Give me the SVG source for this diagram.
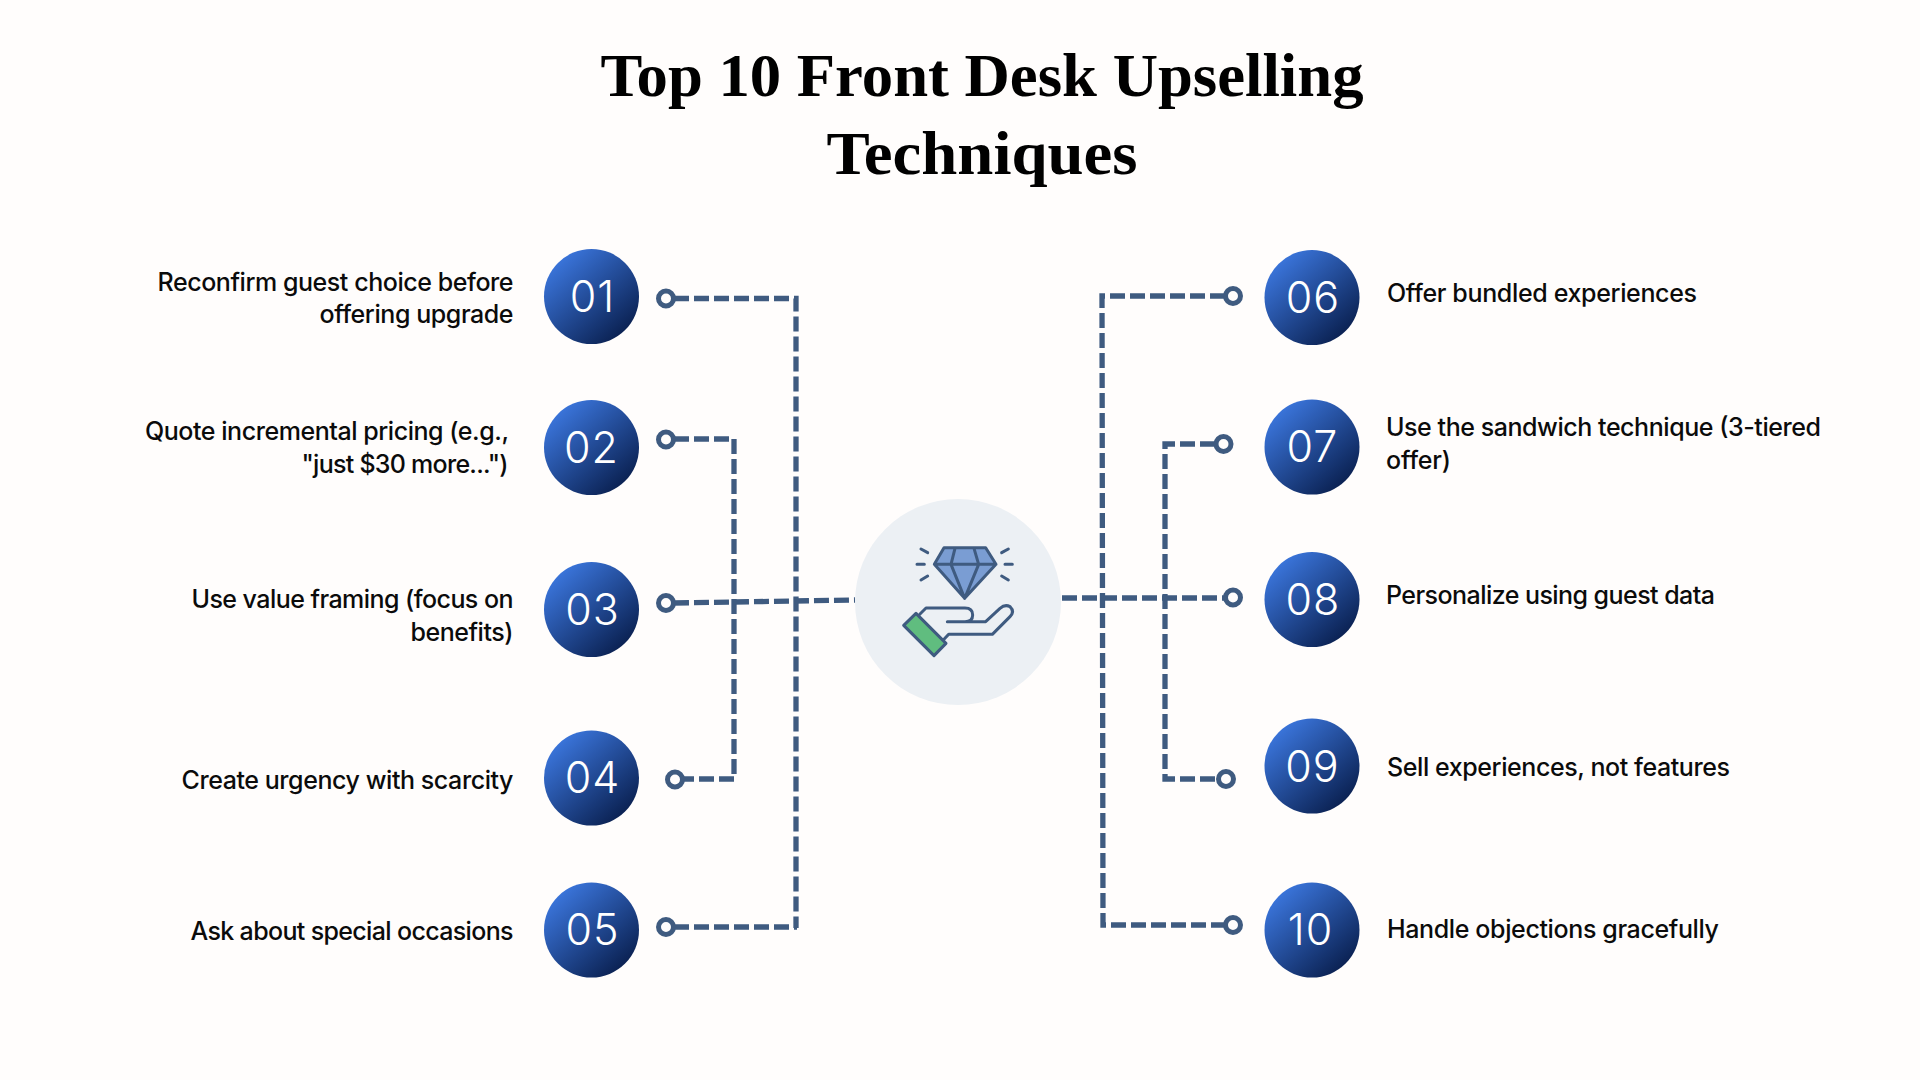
<svg xmlns="http://www.w3.org/2000/svg" width="1920" height="1080" viewBox="0 0 1920 1080">
<defs>
<linearGradient id="g" x1="0.15" y1="0.1" x2="0.85" y2="0.9"><stop offset="0" stop-color="#3b76dd"/><stop offset="1" stop-color="#0a2050"/></linearGradient>
</defs>
<style>
.t{font-family:"Liberation Serif",serif;font-weight:700;font-size:62px;fill:#000;text-anchor:middle}
.l{font-family:Inter,sans-serif;font-weight:500;font-size:25px;fill:#0b0b0b}
.e{text-anchor:end}
.n{font-family:Inter,sans-serif;font-weight:300;font-size:43px;fill:#fff;text-anchor:middle;letter-spacing:1px}
.b{fill:url(#g)}
.d{fill:none;stroke:#3f5b80;stroke-width:5.300;stroke-dasharray:15 5}
.o{fill:#fffdfc;stroke:#3f5b80;stroke-width:5}
.i{stroke:#3f5b80;stroke-width:9;stroke-linecap:round;stroke-linejoin:round;fill:none}
</style>
<rect width="1920" height="1080" fill="#fffdfc"/>
<g id="title"><text class="t" x="982" y="96" textLength="763" lengthAdjust="spacingAndGlyphs">Top 10 Front Desk Upselling</text><text class="t" x="982" y="174" textLength="311" lengthAdjust="spacingAndGlyphs">Techniques</text></g>
<g id="connectors">
<path class="d" d="M674 298.500H796V928M674 927H797"/>
<path class="d" d="M674 439H734V779H683"/>
<path class="d" d="M674 603L855 600"/>
<path class="d" d="M1225 296H1102L1103 925H1225"/>
<path class="d" d="M1215 444H1165V779H1218"/>
<path class="d" d="M1062 598H1225"/>
<circle class="o" cx="666" cy="298.500" r="7.500"/><circle class="o" cx="666" cy="439.500" r="7.500"/><circle class="o" cx="666" cy="603" r="7.500"/><circle class="o" cx="675" cy="779.500" r="7.500"/><circle class="o" cx="666" cy="927" r="7.500"/>
<circle class="o" cx="1233" cy="296" r="7.500"/><circle class="o" cx="1223.500" cy="444" r="7.500"/><circle class="o" cx="1233" cy="597.500" r="7.500"/><circle class="o" cx="1226" cy="779" r="7.500"/><circle class="o" cx="1233" cy="925" r="7.500"/>
</g>
<g id="center"><circle cx="958" cy="602" r="103" fill="#ecf0f4"/>
<g transform="translate(840 480) scale(.33333)">
<path d="M283 253L312 203H437L468 253L374 355Z" fill="#7a9dd3"/>
<path d="M228 400L318 490L282 527L191 436Z" fill="#60bd7f"/>
<path class="i" d="M283 253L312 203H437L468 253L374 355ZM283 253H468M345 205L333 253L374 355L416 253L402 205M243 207L263 218M231 253H253M243 300L263 288M505 207L485 218M517 253H495M505 300L485 288"/>
<path class="i" d="M228 400L318 490L282 527L191 436ZM240 402L258 384H375Q398 384 398 405Q398 425 375 425H322H437L480 385Q495 372 510 380Q525 395 510 410L457 463H326L312 478"/>
</g></g>
<g id="n01"><circle class="b" cx="591.500" cy="296.500" r="47.500"/><text class="n" x="592.500" y="311.500">01</text><text class="l e" x="513.500" y="291" textLength="356">Reconfirm guest choice before</text><text class="l e" x="513.500" y="323" textLength="194">offering upgrade</text></g>
<g id="n02"><circle class="b" cx="591.500" cy="447.500" r="47.500"/><text class="n" x="591.500" y="462.500">02</text><text class="l e" x="509" y="440" textLength="364">Quote incremental pricing (e.g.,</text><text class="l e" x="508.500" y="473" textLength="207">"just $30 more...")</text></g>
<g id="n03"><circle class="b" cx="591.500" cy="609.500" r="47.500"/><text class="n" x="592.500" y="624.500">03</text><text class="l e" x="513.500" y="608" textLength="322">Use value framing (focus on</text><text class="l e" x="513.500" y="641" textLength="103">benefits)</text></g>
<g id="n04"><circle class="b" cx="591.500" cy="778" r="47.500"/><text class="n" x="592.500" y="793">04</text><text class="l e" x="513.500" y="789" textLength="332">Create urgency with scarcity</text></g>
<g id="n05"><circle class="b" cx="591.500" cy="930" r="47.500"/><text class="n" x="592.500" y="945">05</text><text class="l e" x="513.500" y="940" textLength="323">Ask about special occasions</text></g>
<g id="n06"><circle class="b" cx="1312" cy="297.500" r="47.500"/><text class="n" x="1313" y="312.500">06</text><text class="l" x="1387" y="302" textLength="310">Offer bundled experiences</text></g>
<g id="n07"><circle class="b" cx="1312" cy="447" r="47.500"/><text class="n" x="1312.500" y="462">07</text><text class="l" x="1386" y="436" textLength="435">Use the sandwich technique (3-tiered</text><text class="l" x="1386" y="469" textLength="65">offer)</text></g>
<g id="n08"><circle class="b" cx="1312" cy="599.500" r="47.500"/><text class="n" x="1313" y="615">08</text><text class="l" x="1386" y="603.500" textLength="329">Personalize using guest data</text></g>
<g id="n09"><circle class="b" cx="1312" cy="766" r="47.500"/><text class="n" x="1312.500" y="782">09</text><text class="l" x="1387" y="776" textLength="343">Sell experiences, not features</text></g>
<g id="n10"><circle class="b" cx="1312" cy="930" r="47.500"/><text class="n" x="1310.500" y="945">10</text><text class="l" x="1387" y="937.500" textLength="332">Handle objections gracefully</text></g>
</svg>
